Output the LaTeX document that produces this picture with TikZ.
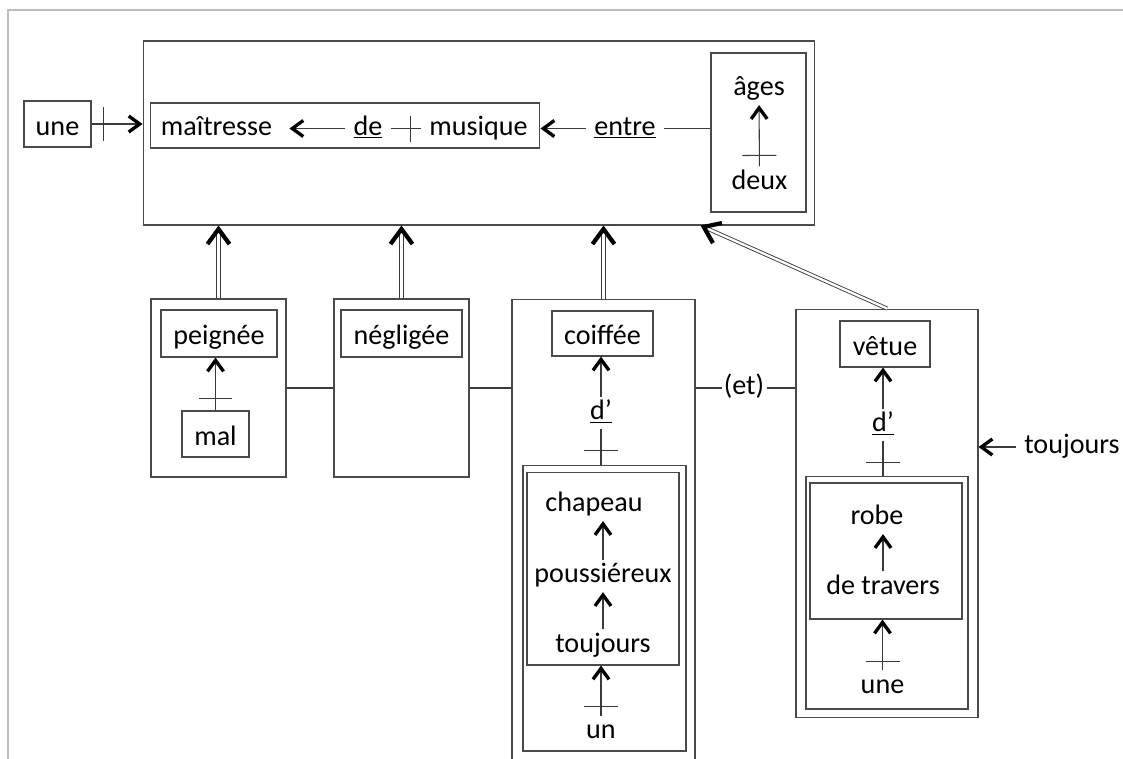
\documentclass[tikz,border=0pt]{standalone}
\usepackage{fontspec}
\setmainfont{Carlito}
\usetikzlibrary{arrows.meta, positioning, calc, decorations.markings}
\definecolor{ink}  {HTML}{3A3A3A}
\definecolor{edge} {HTML}{4A4A4A}
\definecolor{page} {HTML}{BDBDBD}
\tikzset{
  word/.style   = {inner xsep=0.16cm, inner ysep=0.06cm,
                   text height=11pt, text depth=3.5pt},
  box/.style    = {draw=edge, line width=0.6pt, inner sep=0pt,
                   text height=16pt, text depth=3pt},
  group/.style  = {draw=edge, line width=0.6pt, inner sep=0pt},
  line/.style   = {draw=ink, line width=0.6pt},
  arr/.style    = {line, -{Straight Barb[length=0.22cm, width=0.32cm, line width=1.9pt, black]}},
  dbl/.style    = {draw=ink, line width=0.5pt, double, double distance=1.3pt,
                   -{Straight Barb[length=0.3cm, width=0.44cm, line width=2.4pt, black]}},
  tick/.style   = {postaction={decorate, decoration={markings,
                   mark=at position #1 with {\draw[line, -] (0,-0.34cm) -- (0,0.34cm);}}}},
  stick/.style  = {postaction={decorate, decoration={markings,
                   mark=at position #1 with {\draw[line, -] (0,-0.26cm) -- (0,0.26cm);}}}},
}

\begin{document}
\begin{tikzpicture}[x=0.02cm, y=-0.02cm, font=\fontsize{16}{18}\selectfont]
  \useasboundingbox (0,0) rectangle (1123,758);

  % page edge
  \draw[page, line width=1pt] (8,760) -- (8,10) -- (1125,10);

  % --- top: the noun group ---
  \node[group, minimum width=13.44cm, minimum height=3.68cm] (phrase) at (479,133) {};
  \node[box, minimum width=1.34cm, minimum height=0.92cm] (une) at (57.5,124) {une};
  \node[group, minimum width=7.8cm, minimum height=0.9cm] (maitr) at (345,125.5) {};
  \node[word] (maitresse) at (216.5,128.5) {maîtresse};
  \node[word] (de)        at (368,128.5)   {\underline{de}};
  \node[word] (musique)   at (478.5,128.5) {musique};
  \node[word] (entre)     at (625,128.5)   {\underline{entre}};
  \node[group, minimum width=1.9cm, minimum height=3.18cm] (agesbox) at (758.5,132.5) {};
  \node[word] (ages) at (759,89)    {âges};
  \node[word] (deux) at (759.5,182.5) {deux};

  \draw[arr, tick=0.24cm] (une) -- (une -| phrase.west);
  \draw[arr, shorten >=0.18cm] (de) -- (maitresse);
  \draw[line, stick=0.22cm] (musique) -- (de);
  \draw[arr] (entre) -- (entre -| maitr.east);
  \draw[line] (entre) -- (entre -| agesbox.west);
  \draw[arr, tick=0.22cm] (deux) -- (ages);

  % --- lower row: the four attributes ---
  \node[group, minimum width=2.7cm, minimum height=3.56cm] (gpeig) at (218.5,388) {};
  \node[box, minimum width=2.32cm, minimum height=0.94cm] (peig) at (219,333.5) {peignée};
  \node[box, minimum width=1.34cm, minimum height=0.92cm] (mal) at (215.5,434) {mal};

  \node[group, minimum width=2.7cm, minimum height=3.56cm] (gnegl) at (401.5,388) {};
  \node[box, minimum width=2.42cm, minimum height=0.94cm] (negl) at (401.5,333.5) {négligée};

  \node[group, minimum width=3.66cm, minimum height=9.32cm] (gcoif) at (603.5,532) {};
  \node[box, minimum width=2.02cm, minimum height=0.9cm] (coif) at (602.5,333.5) {coiffée};
  \node[word] (d1) at (601,413) {\underline{d’}};
  \node[group, minimum width=3.26cm, minimum height=5.72cm] (nchap) at (604.5,608) {};
  \node[group, minimum width=3.04cm, minimum height=3.86cm] (ichap) at (603,568.5) {};
  \node[word] (chap) at (594,505)   {chapeau};
  \node[word] (pous) at (603,576)   {poussiéreux};
  \node[word] (touj) at (603,645.5) {toujours};
  \node[word] (un)   at (601,732)   {un};

  \node[word, inner xsep=0.04cm] (et) at (744,388) {(et)};

  \node[group, minimum width=3.64cm, minimum height=8.18cm] (gvetu) at (887,513.5) {};
  \node[box, minimum width=1.8cm, minimum height=0.92cm] (vetu) at (885,344) {vêtue};
  \node[word] (d2) at (883,425) {\underline{d’}};
  \node[group, minimum width=3.24cm, minimum height=4.66cm] (nrobe) at (887,592.5) {};
  \node[group, minimum width=3.04cm, minimum height=2.72cm] (irobe) at (886,551) {};
  \node[word] (robe)  at (877,518)   {robe};
  \node[word] (trav)  at (883,587.5) {de travers};
  \node[word] (une2)  at (882.5,686.5) {une};

  \node[word] (touj2) at (1072,447) {toujours};

  % arrows inside the groups
  \draw[arr, tick=0.24cm] (mal) -- (mal |- peig.south);
  \draw[arr] (d1) -- (d1 |- coif.south);
  \draw[line, tick=0.28cm] (d1 |- nchap.north) -- (d1);
  \draw[arr] (pous) -- (pous |- chap.south);
  \draw[arr] (touj) -- (touj |- pous.south);
  \draw[arr, tick=0.18cm] (un) -- (un |- ichap.south);

  \draw[arr] (d2) -- (d2 |- vetu.south);
  \draw[line, tick=0.26cm] (d2 |- nrobe.north) -- (d2);
  \draw[arr] (trav) -- (trav |- robe.south);
  \draw[arr, tick=0.18cm] (une2) -- (une2 |- irobe.south);

  % links between the groups
  \draw[line] (gpeig) -- (gnegl);
  \draw[line] (gnegl) -- (gnegl -| gcoif.west);
  \draw[line] (gcoif.east |- et) -- (et);
  \draw[line] (et) -- (et -| gvetu.west);
  \draw[arr] (touj2) -- (touj2 -| gvetu.east);

  % double arrows up to the noun group
  \draw[dbl] (gpeig.north) -- (gpeig.north |- phrase.south);
  \draw[dbl] (gnegl.north) -- (gnegl.north |- phrase.south);
  \draw[dbl] (gcoif.north) -- (gcoif.north |- phrase.south);
  \draw[dbl] (gvetu.north) -- ([xshift=-2.3cm]phrase.south east);

\end{tikzpicture}
\end{document}
